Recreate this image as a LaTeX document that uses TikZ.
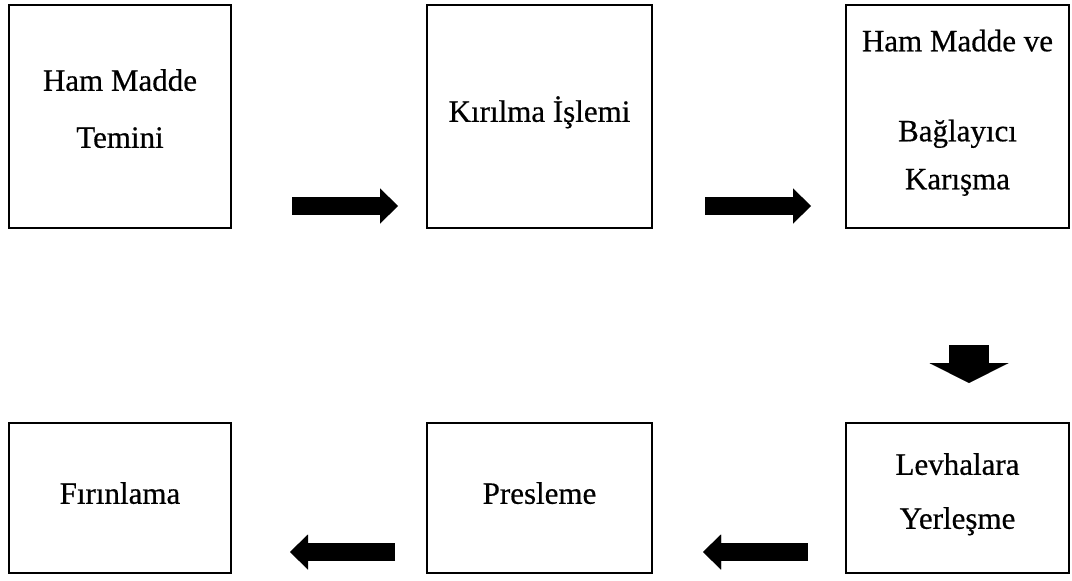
\documentclass[tikz,border=0pt]{standalone}
\usepackage{fontspec}
\setmainfont{Liberation Serif}[FakeBold=0.5]
\usetikzlibrary{arrows.meta}
\begin{document}
\begin{tikzpicture}[x=1pt,y=-1pt,
  box/.style={draw=black, line width=2.2pt, fill=white, inner sep=0pt, align=center},
  rowone/.style={box, minimum height=223pt},
  rowtwo/.style={box, minimum height=150pt},
  hflow/.style={line width=18pt, -{Triangle[length=18pt,width=35pt,line width=0.01pt]}},
  vflow/.style={line width=40pt, -{Triangle[length=20pt,width=79pt,line width=0.01pt]}}]
\useasboundingbox (0,0) rectangle (1072,581);
\node[rowone, minimum width=222pt, font=\fontsize{31}{57}\selectfont] (b1) at (120,116.5) {Ham Madde\\Temini\\[-41pt]\mbox{}};
\node[rowone, minimum width=225pt, font=\fontsize{31}{36}\selectfont] (b2) at (539.5,116.5) {Kırılma İşlemi\\[-21pt]\mbox{}};
\node[rowone, minimum width=223pt, font=\fontsize{31}{48}\selectfont] (b3) at (957.5,116.5) {Ham Madde ve\\[42pt]Bağlayıcı\\Karışma\\[-34pt]\mbox{}};
\node[rowtwo, minimum width=222pt, font=\fontsize{31}{36}\selectfont] (b4) at (120,498) {Fırınlama\\[-26pt]\mbox{}};
\node[rowtwo, minimum width=225pt, font=\fontsize{31}{36}\selectfont] (b5) at (539.5,498) {Presleme\\[-26pt]\mbox{}};
\node[rowtwo, minimum width=223pt, font=\fontsize{31}{54}\selectfont] (b6) at (957.5,498) {Levhalara\\Yerleşme\\[-40pt]\mbox{}};
\coordinate (a1s) at (292,206); \coordinate (a1e) at (398,206);
\coordinate (a2s) at (705,206); \coordinate (a2e) at (811,206);
\coordinate (a3s) at (969,345); \coordinate (a3e) at (969,383);
\coordinate (a4s) at (395,552); \coordinate (a4e) at (290,552);
\coordinate (a5s) at (808,552); \coordinate (a5e) at (703,552);
\draw[hflow] (a1s) -- (a1e);
\draw[hflow] (a2s) -- (a2e);
\draw[vflow] (a3s) -- (a3e);
\draw[hflow] (a4s) -- (a4e);
\draw[hflow] (a5s) -- (a5e);
\end{tikzpicture}
\end{document}
